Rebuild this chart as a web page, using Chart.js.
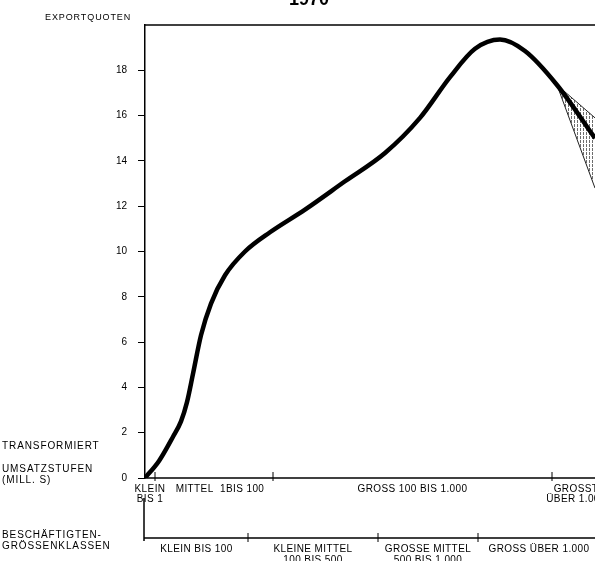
<!DOCTYPE html>
<html lang='de'>
<head>
  <meta charset='UTF-8'>
  <title>Exportquoten 1970</title>
  <style>
    * { box-sizing: border-box; }
    body { margin: 0; background: #fff; }
    #wrap { width: 595px; height: 561px; position: relative; }
  </style>
  <script src="https://cdn.jsdelivr.net/npm/chart.js"></script>
</head>
<body>
  <div id='wrap'><canvas id='chart' width='595' height='561'></canvas></div>

  <script>
    // Position along the size-class axis (0 = origin), Exportquote in %
    const curveX = [0, 14, 28, 36, 42, 48, 56, 66, 80, 100, 125, 160, 200, 240, 275, 305, 330, 355, 380, 412, 450];
    const curveY = [0, 0.75, 1.82, 2.5, 3.35, 4.6, 6.3, 7.7, 8.95, 10.0, 10.85, 11.85, 13.1, 14.35, 15.9, 17.7, 18.95, 19.36, 18.85, 17.35, 15.0];

    // Streuungsfächer am rechten Ende
    const fanX = [412, 450];
    const fanUpper = [17.35, 15.9];
    const fanLower = [17.35, 12.8];

    const yTicks = [0, 2, 4, 6, 8, 10, 12, 14, 16, 18];

    const umsatzBounds = [0, 10, 128, 407, 455];
    const umsatzLabels = [['KLEIN', 'BIS 1'], ['MITTEL  1BIS 100'], ['GROSS 100 BIS 1.000'], ['GROSST', 'ÜBER 1.000']];
    const beschBounds = [0, 103, 233, 333, 455];
    const beschLabels = [['KLEIN BIS 100'], ['KLEINE MITTEL', '100 BIS 500'], ['GROSSE MITTEL', '500 BIS 1.000'], ['GROSS ÜBER 1.000']];

    const FONT = "'Liberation Sans', Arial, sans-serif";

    const toPoints = (xs, ys) => xs.map((x, i) => ({ x: x, y: ys[i] }));

    // vertical dotted hatch for the fan
    function hatch() {
      const c = document.createElement('canvas');
      c.width = 3; c.height = 4;
      const g = c.getContext('2d');
      g.fillStyle = 'rgba(60,60,60,0.75)';
      g.fillRect(1, 0, 1, 3);
      return g.createPattern(c, 'repeat');
    }

    const frame = {
      id: 'frame',
      afterDraw(chart) {
        const ctx = chart.ctx;
        const xs = chart.scales.x;
        const area = chart.chartArea;
        const left = area.left;
        ctx.save();
        ctx.strokeStyle = '#000';
        ctx.fillStyle = '#000';
        ctx.lineWidth = 1.5;

        // top frame line
        ctx.beginPath();
        ctx.moveTo(left, area.top);
        ctx.lineTo(area.right, area.top);
        ctx.stroke();

        // Umsatzstufen axis (at y = 0)
        const yU = chart.scales.y.getPixelForValue(0);
        ctx.beginPath();
        ctx.moveTo(left, yU);
        ctx.lineTo(area.right, yU);
        ctx.stroke();
        ctx.lineWidth = 1;
        umsatzBounds.slice(1, -1).forEach(b => {
          const px = xs.getPixelForValue(b);
          ctx.beginPath();
          ctx.moveTo(px, yU - 6);
          ctx.lineTo(px, yU + 3);
          ctx.stroke();
        });

        // Beschäftigten axis
        const yB = 538;
        ctx.lineWidth = 1.5;
        ctx.beginPath();
        ctx.moveTo(left - 1, 498);
        ctx.lineTo(left - 1, yB + 3);
        ctx.moveTo(left - 1, yB);
        ctx.lineTo(area.right, yB);
        ctx.stroke();
        ctx.lineWidth = 1;
        beschBounds.slice(1, -1).forEach(b => {
          const px = xs.getPixelForValue(b);
          ctx.beginPath();
          ctx.moveTo(px, yB - 5);
          ctx.lineTo(px, yB + 4);
          ctx.stroke();
        });

        ctx.font = '10px ' + FONT;
        ctx.letterSpacing = '0.4px';
        ctx.textAlign = 'center';
        ctx.textBaseline = 'alphabetic';
        umsatzLabels.forEach((lines, i) => {
          const cx = xs.getPixelForValue((umsatzBounds[i] + umsatzBounds[i + 1]) / 2) + (i === 1 ? 6 : 0);
          lines.forEach((t, j) => ctx.fillText(t, cx, 492 + j * 10));
        });
        beschLabels.forEach((lines, i) => {
          const cx = xs.getPixelForValue((beschBounds[i] + beschBounds[i + 1]) / 2);
          lines.forEach((t, j) => ctx.fillText(t, cx, 552 + j * 11));
        });

        // left side captions
        ctx.textAlign = 'left';
        ctx.letterSpacing = '0.9px';
        ctx.fillText('TRANSFORMIERT', 2, 449);
        ctx.fillText('UMSATZSTUFEN', 2, 472);
        ctx.fillText('(MILL. S)', 2, 483);
        ctx.fillText('BESCHÄFTIGTEN-', 2, 538);
        ctx.fillText('GRÖSSENKLASSEN', 2, 549);

        ctx.font = '9px ' + FONT;
        ctx.letterSpacing = '0.9px';
        ctx.fillText('EXPORTQUOTEN', 45, 20);

        // title, cut at the top edge as in the scan
        ctx.font = 'bold 18px ' + FONT;
        ctx.letterSpacing = '0px';
        ctx.textAlign = 'center';
        ctx.fillText('1970', 309, 5);
        ctx.restore();
      }
    };

    new Chart(document.getElementById('chart'), {
      type: 'line',
      data: {
        datasets: [
          {
            label: 'Exportquote',
            data: toPoints(curveX, curveY),
            borderColor: '#000',
            borderWidth: 4.5,
            pointRadius: 0,
            cubicInterpolationMode: 'monotone',
            fill: false,
            order: 0
          },
          {
            label: 'Fächer oben',
            data: toPoints(fanX, fanUpper),
            borderColor: '#222',
            borderWidth: 1,
            pointRadius: 0,
            backgroundColor: hatch(),
            fill: '+1',
            order: 1
          },
          {
            label: 'Fächer unten',
            data: toPoints(fanX, fanLower),
            borderColor: '#222',
            borderWidth: 1,
            pointRadius: 0,
            fill: false,
            order: 1
          }
        ]
      },
      options: {
        responsive: false,
        animation: false,
        layout: { padding: { left: 0, right: 0, top: 25, bottom: 83 } },
        plugins: { legend: { display: false }, tooltip: { enabled: false } },
        scales: {
          x: { type: 'linear', min: 0, max: 450, display: false },
          y: {
            min: 0, max: 20,
            afterFit: s => { s.width = 145; },
            afterBuildTicks: s => { s.ticks = yTicks.map(v => ({ value: v })); },
            border: { display: true, color: '#000', width: 1.5 },
            grid: { drawOnChartArea: false, drawTicks: true, tickLength: 7, color: '#000', lineWidth: 1 },
            ticks: {
              padding: 11,
              color: '#000',
              font: { family: FONT, size: 10 },
              callback: v => String(v)
            }
          }
        }
      },
      plugins: [frame]
    });
  </script>
</body>
</html>
